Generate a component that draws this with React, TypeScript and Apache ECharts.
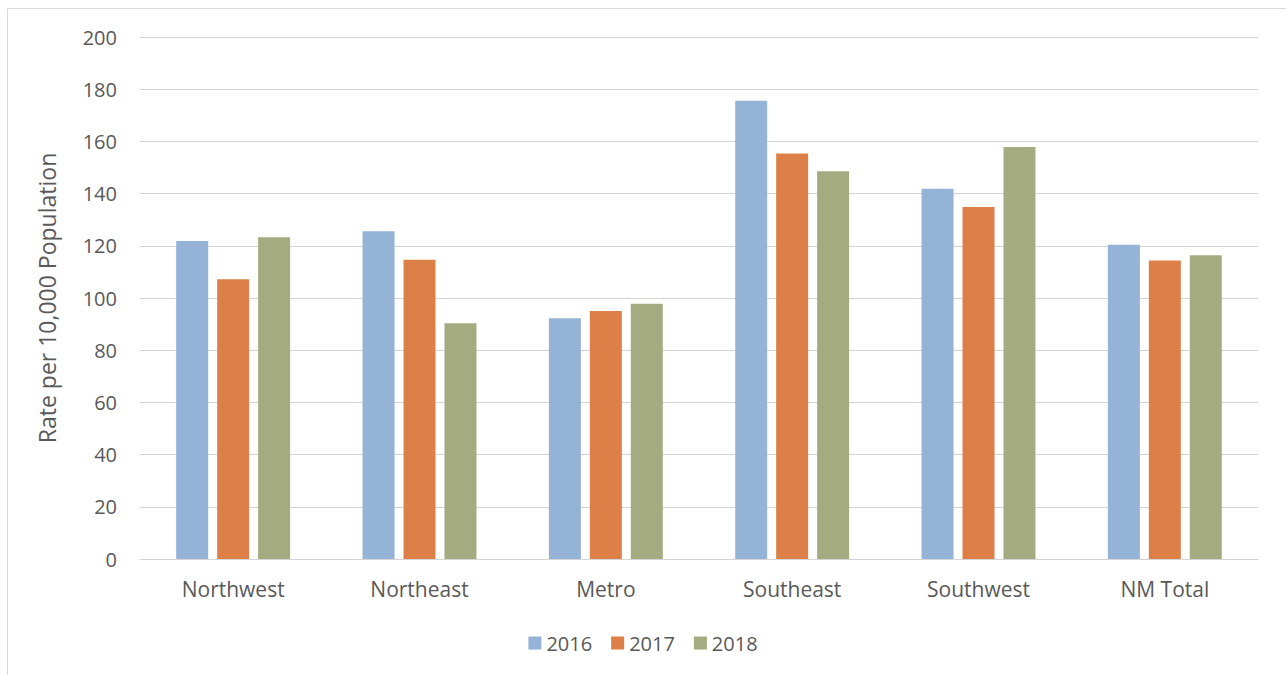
import React, { useEffect, useRef } from "react";
import * as echarts from "echarts";

const categories = ["Northwest", "Northeast", "Metro", "Southeast", "Southwest", "NM Total"];
const years = ["2016", "2017", "2018"];
const values2016 = [121.8, 125.6, 92.2, 175.6, 141.9, 120.4];
const values2017 = [107.2, 114.7, 95.0, 155.4, 134.9, 114.4];
const values2018 = [123.3, 90.3, 97.8, 148.6, 157.9, 116.4];
const colors = ["#95B3D7", "#DD8047", "#A5AB81"];
const yTicks = { min: 0, max: 200, interval: 20 };

const FONT = "'Open Sans', 'Noto Sans', sans-serif";
const TEXT = "#595959";

export default function App() {
  const ref = useRef<HTMLDivElement>(null);
  useEffect(() => {
    if (!ref.current) return;
    const chart = echarts.init(ref.current, null, { renderer: "svg" });
    const seriesData = [values2016, values2017, values2018];
    chart.setOption({
      animation: false,
      backgroundColor: "#ffffff",
      textStyle: { fontFamily: FONT, color: TEXT },
      graphic: [
        {
          type: "rect",
          shape: { x: 7.5, y: 8.5, width: 1400, height: 800 },
          style: { fill: "none", stroke: "#D9D9D9", lineWidth: 1 },
          silent: true,
        },
      ],
      grid: { left: 140, right: 28, top: 37, bottom: 116, containLabel: false },
      legend: {
        data: years,
        bottom: 17,
        left: "center",
        itemWidth: 13,
        itemHeight: 13,
        itemGap: 19,
        icon: "rect",
        textStyle: { fontFamily: FONT, fontSize: 20, color: TEXT },
      },
      xAxis: {
        type: "category",
        data: categories,
        axisLine: { show: true, lineStyle: { color: "#D4D4D4", width: 1 } },
        axisTick: { show: false },
        axisLabel: { fontFamily: FONT, fontSize: 21, color: TEXT, margin: 19 },
      },
      yAxis: {
        type: "value",
        min: yTicks.min,
        max: yTicks.max,
        interval: yTicks.interval,
        name: "Rate per 10,000 Population",
        nameLocation: "middle",
        nameGap: 82,
        nameTextStyle: { fontFamily: FONT, fontSize: 23, color: TEXT },
        axisLine: { show: false },
        axisTick: { show: false },
        splitLine: { lineStyle: { color: "#D4D4D4", width: 1 } },
        axisLabel: { fontFamily: FONT, fontSize: 20, color: TEXT, margin: 23 },
      },
      series: years.map((y, i) => ({
        name: y,
        type: "bar",
        data: seriesData[i],
        barWidth: 32,
        barGap: "28%",
        itemStyle: { color: colors[i] },
      })),
    });
    return () => chart.dispose();
  }, []);
  return (
    <div
      ref={ref}
      style={{ position: "absolute", left: 0, top: 0, width: 1286, height: 675 }}
    />
  );
}
